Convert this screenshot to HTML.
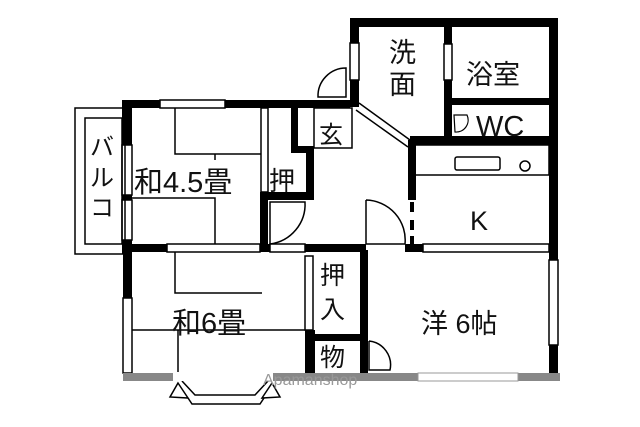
<!DOCTYPE html>
<html><head><meta charset="utf-8"><style>
html,body{margin:0;padding:0;background:#fff}
svg{display:block}
text{font-family:"Liberation Sans","Noto Sans CJK JP",sans-serif;fill:#111}
</style></head><body>
<svg width="640" height="427" viewBox="0 0 640 427" xmlns="http://www.w3.org/2000/svg">
<g fill="#000">
<rect x="350" y="18" width="208" height="9"/>
<rect x="549" y="18" width="9" height="240"/>
<rect x="350" y="18" width="9" height="25"/>
<rect x="350" y="80" width="9" height="27"/>
<rect x="444" y="18" width="8" height="26"/>
<rect x="444" y="80" width="8" height="60"/>
<rect x="448" y="98" width="110" height="7"/>
<rect x="410" y="136" width="148" height="9"/>
<rect x="408" y="140" width="8" height="60"/>
<rect x="122" y="244" width="45" height="8"/>
<rect x="260" y="244" width="10" height="8"/>
<rect x="305" y="244" width="61" height="8"/>
<rect x="405" y="244" width="18" height="8"/>
<rect x="122" y="100" width="38" height="8"/>
<rect x="225" y="100" width="92" height="8"/>
<rect x="122" y="100" width="10" height="45"/>
<rect x="122" y="195" width="10" height="5"/>
<rect x="122" y="240" width="10" height="14"/>
<rect x="291" y="100" width="7" height="52"/>
<rect x="291" y="146" width="22" height="7"/>
<rect x="306" y="146" width="8" height="54"/>
<rect x="260" y="192" width="54" height="8"/>
<rect x="260" y="192" width="8" height="10"/>
<rect x="260" y="202" width="8" height="50"/>
<rect x="314" y="100" width="36" height="8"/>
<rect x="123" y="250" width="9" height="48"/>
<rect x="305" y="330" width="10" height="45"/>
<rect x="314" y="334" width="52" height="7"/>
<rect x="360" y="250" width="8" height="125"/>
<rect x="549" y="250" width="9" height="10"/>
<rect x="549" y="345" width="9" height="35"/>
</g>
<g fill="none" stroke="#000" stroke-width="1.5">
<rect x="160" y="100" width="65" height="8"/>
<rect x="350" y="43" width="9" height="37"/>
<rect x="444" y="44" width="8" height="36"/>
<rect x="122" y="145" width="10" height="50"/>
<rect x="122" y="200" width="10" height="40"/>
<rect x="123" y="298" width="9" height="75"/>
<rect x="549" y="260" width="9" height="85"/>
<rect x="167" y="244" width="93" height="8"/>
<rect x="270" y="244" width="35" height="8"/>
<rect x="423" y="244" width="126" height="8"/>
<rect x="305" y="256" width="8" height="74"/>
<rect x="261" y="108" width="7" height="84"/>
<path d="M359 103 L410 140 M356 110 L408 147"/>
<rect x="75" y="108" width="50" height="146"/>
<rect x="85" y="118" width="37" height="126"/>
<path d="M175 108 V154 H261 M215 154 V160 M132 198 H215 V244"/>
<path d="M175 252 V293 H262 M132 330 H305 M178 330 V372"/>
<rect x="314" y="108" width="38" height="40"/>
<rect x="410" y="145" width="139" height="30"/>
<rect x="455" y="157" width="45" height="13" rx="2"/>
<circle cx="525" cy="166" r="5"/>
<path d="M346 97 V68 A28 28 0 0 0 318 97 Z"/>
<path d="M270 202 V244 A40 40 0 0 0 305 202 Z"/>
<path d="M366 200 V244 H405 A40 40 0 0 0 366 200"/>
<path d="M369 341 V370 H390 A24 24 0 0 0 369 341"/>
<path d="M454 115 H467 A12 12 0 0 1 455 132 Z" stroke-width="1.2"/>
<path d="M412 202 V212 M412 220 V230 M412 236 V244" stroke-width="4"/>
<path d="M182 381 L195 395 H255 L268 381" />
<path d="M178 383 L170 397 L188 398 Z M272 383 L280 397 L262 398 Z"/>
<path d="M188 398 L192 404 H260 L264 398"/>
</g>
<rect x="123" y="373" width="437" height="8" fill="#888"/>
<rect x="173" y="373" width="100" height="8" fill="#fff"/>
<rect x="418" y="373" width="100" height="8" fill="#fff" stroke="#999"/>
<g font-size="27">
<text x="389" y="62">洗</text>
<text x="389" y="94">面</text>
<text x="466" y="84" font-size="27">浴室</text>
<text x="476" y="136" font-size="29">WC</text>
<text x="319" y="143" font-size="24">玄</text>
<text x="134" y="192" font-size="29">和4.5畳</text>
<text x="269" y="190" font-size="26">押</text>
<text x="90" y="155" font-size="24">バ</text>
<text x="90" y="186" font-size="24">ル</text>
<text x="90" y="216" font-size="24">コ</text>
<text x="470" y="230" font-size="27">K</text>
<text x="172" y="333" font-size="29">和6畳</text>
<text x="320" y="284" font-size="25">押</text>
<text x="320" y="318" font-size="25">入</text>
<text x="320" y="366" font-size="25">物</text>
<text x="421" y="333" font-size="27">洋 6帖</text>
</g>
<text x="263" y="385" font-size="16" style="fill:#999">Apamanshop</text>
</svg>
</body></html>
